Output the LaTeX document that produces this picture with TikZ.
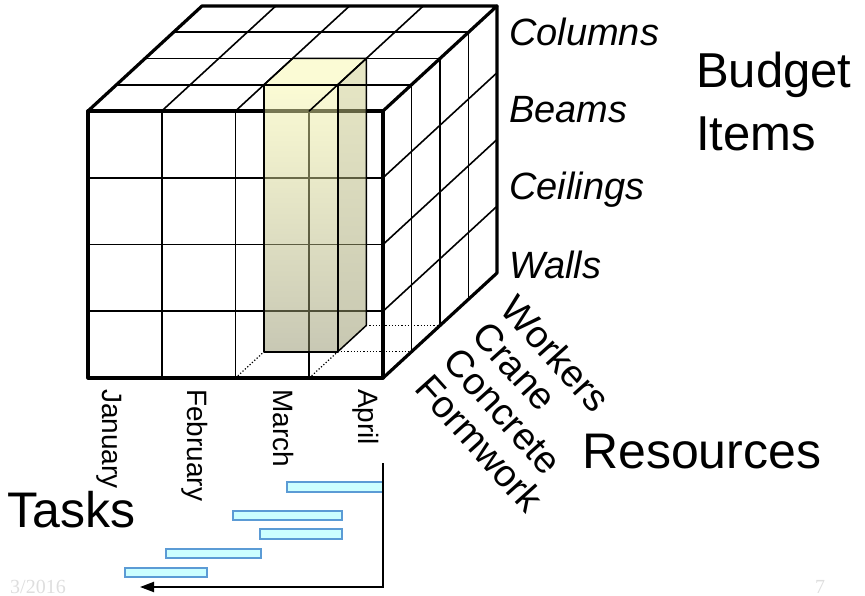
\documentclass[tikz,border=0pt]{standalone}
\usepackage{fontspec}
\setmainfont{Liberation Sans}
\newfontfamily\footserif{Liberation Serif}
\usetikzlibrary{arrows.meta}
\definecolor{taskfill}{RGB}{204,255,255}
\definecolor{taskblue}{RGB}{91,155,213}
\definecolor{barft}{RGB}{248,248,170}
\definecolor{barfb}{RGB}{145,145,105}
\definecolor{barst}{RGB}{209,209,140}
\definecolor{barsb}{RGB}{145,145,101}
\definecolor{bartop}{RGB}{247,247,172}
\definecolor{footgray}{RGB}{222,222,222}
\tikzset{
  cubegrid/.style={line width=1.6pt, line cap=round},
  cubeedge/.style={line width=3.2pt, line cap=round, line join=round},
  hidline/.style={line width=1.2pt, dotted},
  barline/.style={line width=1.5pt, line join=round},
  itemlbl/.style={font=\fontsize{38}{40}\selectfont\itshape, anchor=base west, inner sep=0pt},
  biglbl/.style={font=\fontsize{49}{52}\selectfont, anchor=base west, inner sep=0pt},
  monthlbl/.style={font=\fontsize{28}{30}\selectfont, rotate=-90, anchor=base west, inner sep=0pt},
  reslbl/.style={font=\fontsize{38}{40}\selectfont, rotate=-48, anchor=base west, inner sep=0pt},
  taskbar/.style={draw=taskblue, fill=taskfill, line width=1.5pt},
  footlbl/.style={font=\footserif\fontsize{20}{22}\selectfont, text=footgray, anchor=base west, inner sep=0pt}
}
\begin{document}
\begin{tikzpicture}[x=1pt,y=-1pt]
\useasboundingbox (0,0) rectangle (865,596);
% front face grid
\foreach \i in {1,2,3} \draw[cubegrid] ({88+73.75*\i},111) -- ({88+73.75*\i},378);
\foreach \j in {1,2,3} \draw[cubegrid] (88,{111+66.75*\j}) -- (383,{111+66.75*\j});
\draw[cubeedge] (88,111) rectangle (383,378);
% hidden lines
\draw[hidline] (235.5,378) -- (264,351.75);
\draw[hidline] (309.25,378) -- (337.75,351.75);
\draw[hidline] (337.75,351.75) -- (411.5,351.75);
\draw[hidline] (366.25,325.5) -- (440,325.5);
% highlighted bar
\shade[top color=barft, bottom color=barfb, fill opacity=0.5] (264,84.75) rectangle (337.75,351.75);
\shade[top color=barst, bottom color=barsb, fill opacity=0.5] (337.75,84.75) -- (366.25,58.5) -- (366.25,325.5) -- (337.75,351.75) -- cycle;
\fill[bartop, fill opacity=0.5] (264,84.75) -- (292.5,58.5) -- (366.25,58.5) -- (337.75,84.75) -- cycle;
\draw[barline] (264,84.75) rectangle (337.75,351.75);
\draw[barline] (337.75,84.75) -- (366.25,58.5) -- (366.25,325.5) -- (337.75,351.75);
\draw[barline] (264,84.75) -- (292.5,58.5) -- (366.25,58.5);
% top face grid
\foreach \k in {1,2,3} \draw[cubegrid] ({88+28.5*\k},{111-26.25*\k}) -- ({383+28.5*\k},{111-26.25*\k});
\foreach \i in {1,2,3} \draw[cubegrid] ({88+73.75*\i},111) -- ({202+73.75*\i},6);
% right face grid
\foreach \k in {1,2,3} \draw[cubegrid] ({383+28.5*\k},{111-26.25*\k}) -- ({383+28.5*\k},{378-26.25*\k});
\foreach \j in {1,2,3} \draw[cubegrid] (383,{111+66.75*\j}) -- (497,{6+66.75*\j});
% outer edges
\draw[cubeedge] (88,111) -- (202,6) -- (497,6) -- (383,111);
\draw[cubeedge] (497,6) -- (497,273) -- (383,378);
% budget items
\node[itemlbl] (columns) at (509,46) {Columns};
\node[itemlbl] (beams) at (509,123) {Beams};
\node[itemlbl] (ceilings) at (509,200) {Ceilings};
\node[itemlbl] (walls) at (509,278) {Walls};
\node[biglbl] (budget) at (696,88) {Budget};
\node[biglbl] (items) at (696,151) {Items};
% months
\node[monthlbl] (jan) at (102,389) {January};
\node[monthlbl] (feb) at (187,389) {February};
\node[monthlbl] (mar) at (273,389) {March};
\node[monthlbl] (apr) at (358,389) {April};
% resources
\node[reslbl] (workers) at (498.5,310.25) {Workers};
\node[reslbl] (crane) at (470,336.5) {Crane};
\node[reslbl] (concrete) at (441.5,362.75) {Concrete};
\node[reslbl] (formwork) at (413,389) {Formwork};
\node[biglbl, font=\fontsize{50}{54}\selectfont] (resources) at (582,468) {Resources};
\node[biglbl, font=\fontsize{50}{54}\selectfont] (tasks) at (7,527) {Tasks};
% gantt
\draw[taskbar] (287,482) rectangle (383,492);
\draw[taskbar] (233,511) rectangle (342,520);
\draw[taskbar] (260,529) rectangle (342,539);
\draw[taskbar] (166,549) rectangle (261,558);
\draw[taskbar] (125,568) rectangle (207,577);
\coordinate (arrtop) at (383,463);
\coordinate (arrcorner) at (383,587);
\coordinate (arrend) at (140,587);
\draw[line width=2pt, -{Triangle[length=14pt,width=10pt]}] (arrtop) -- (arrcorner) -- (arrend);
% footer
\node[footlbl] (date) at (10,593) {3/2016};
\node[footlbl] (page) at (815,593) {7};
\end{tikzpicture}
\end{document}
